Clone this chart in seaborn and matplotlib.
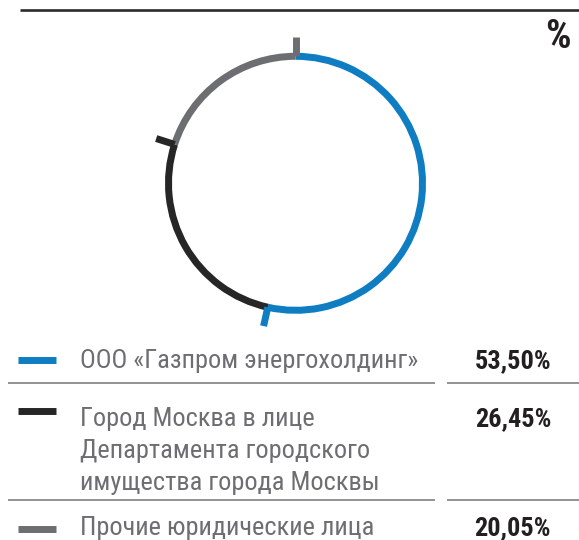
import matplotlib
matplotlib.use("Agg")
import matplotlib.pyplot as plt
from matplotlib import font_manager
import seaborn as sns
import numpy as np

# ---- data ----
shareholders = [
    "ООО «Газпром энергохолдинг»",
    "Город Москва в лице\nДепартамента городского\nимущества города Москвы",
    "Прочие юридические лица",
]
shares = [53.50, 26.45, 20.05]
share_labels = ["53,50%", "26,45%", "20,05%"]
colors = ["#0e7dc2", "#262626", "#6d6e71"]

sns.set_theme(style="white")
installed = {f.name for f in font_manager.fontManager.ttflist}
prefs = ["Roboto Condensed", "PT Sans Narrow", "Fira Sans Condensed",
         "Open Sans Condensed", "Roboto"]
font = next(p for p in prefs if p in installed)
plt.rcParams["font.family"] = [font, "Roboto", "DejaVu Sans"]

W, H = 579, 540
fig = plt.figure(figsize=(W / 100, H / 100), dpi=100)

# overlay axes in pixel coords for rules and legend
bg = fig.add_axes([0, 0, 1, 1])
bg.set_xlim(0, W)
bg.set_ylim(H, 0)
bg.axis("off")

bg.plot([20, 579], [9.5, 9.5], color="#2b2b2b", lw=1.9, solid_capstyle="butt")
bg.text(571, 48, "%", ha="right", va="baseline", fontsize=29, fontweight="bold", color="#231f20")

# ---- ring ----
cx, cy, half, r_mid = 295.5, 183.3, 150, 127.0
ax = fig.add_axes([(cx - half) / W, (H - cy - half) / H, 2 * half / W, 2 * half / H])
lim = half / r_mid
ax.pie(shares, colors=colors, startangle=90, counterclock=False,
       radius=1 + 3.5 / r_mid, wedgeprops=dict(width=7 / r_mid, linewidth=0))
ax.set_xlim(-lim, lim)
ax.set_ylim(-lim, lim)
ax.set_aspect("equal")
ax.axis("off")

# tick at the clockwise end of each segment
cum = np.cumsum(shares) / sum(shares)
for c, col in zip(cum, colors):
    th = np.deg2rad(90 - 360 * c)
    ax.plot([np.cos(th), 1.152 * np.cos(th)], [np.sin(th), 1.152 * np.sin(th)],
            color=col, lw=5.0, solid_capstyle="butt")

# ---- legend rows ----
base_y = [368, 426, 535]
swatch_y = [360, 411, 529]
for name, lab, col, by, sy in zip(shareholders, share_labels, colors, base_y, swatch_y):
    bg.plot([18, 56], [sy, sy], color=col, lw=5.0, solid_capstyle="butt")
    for i, line in enumerate(name.split("\n")):
        bg.text(80, by + 32 * i, line, ha="left", va="baseline", fontsize=19,
                color="#6d6e71")
    bg.text(551, by, lab, ha="right", va="baseline", fontsize=19, fontweight="bold",
            color="#231f20")

for y in [383, 500]:
    bg.plot([8, 435], [y, y], color="#8a8a8a", lw=1.3, solid_capstyle="butt")
    bg.plot([447, 579], [y, y], color="#8a8a8a", lw=1.3, solid_capstyle="butt")

fig.savefig("out.png", dpi=100)
